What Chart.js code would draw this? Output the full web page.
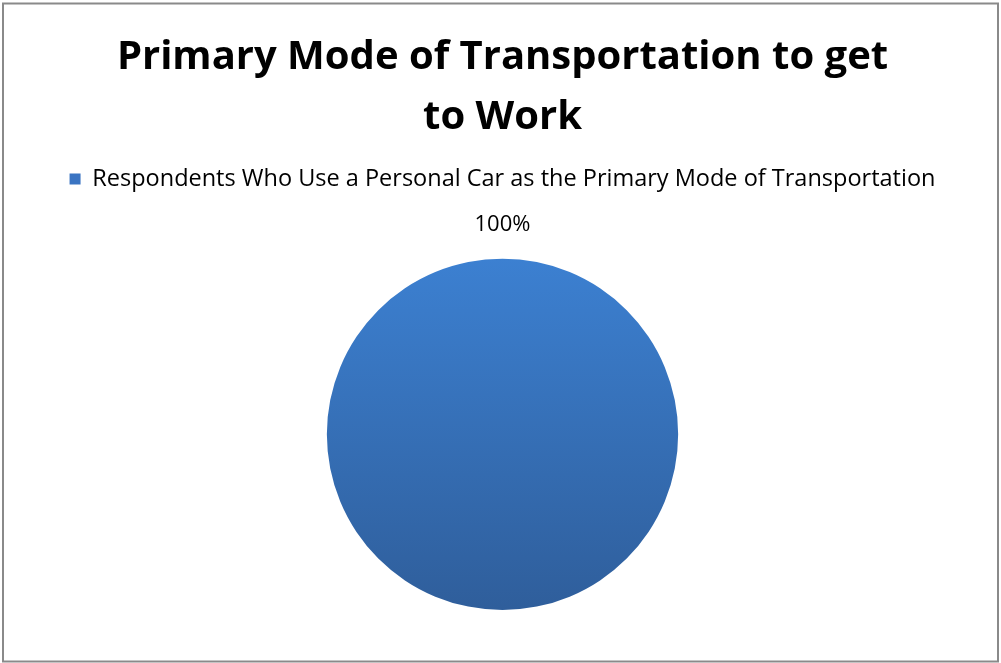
<!DOCTYPE html>
<html>
<head>
<meta charset="utf-8">
<script src="https://cdn.jsdelivr.net/npm/chart.js@4/dist/chart.umd.min.js"></script>
<style>
  html, body { margin: 0; padding: 0; background: #fff; }
  #wrap { width: 1001px; height: 663px; }
</style>
</head>
<body>
<div id="wrap"><canvas id="graph"></canvas></div>
<script>
var categories = ['Respondents Who Use a Personal Car as the Primary Mode of Transportation'];
var values = [100];
var titleLines = ['Primary Mode of Transportation to get', 'to Work'];

// white background + grey frame around the whole chart
const frame = {
  id: 'frame',
  beforeDraw(chart) {
    const ctx = chart.ctx;
    ctx.save();
    ctx.fillStyle = '#fff';
    ctx.fillRect(0, 0, chart.width, chart.height);
    ctx.strokeStyle = '#8a8a8a';
    ctx.lineWidth = 2;
    ctx.strokeRect(3, 3.5, 995, 658);
    ctx.restore();
  }
};

// leave room under the legend for the percent label
const legendGap = {
  id: 'legendGap',
  beforeLayout(chart) {
    const lg = chart.legend;
    if (lg && !lg._gapPatched) {
      lg._gapPatched = true;
      const fit = lg.fit;
      lg.fit = function () {
        fit.call(this);
        this.height += 58;
      };
    }
  }
};

// percent label sitting just above the pie
const valueLabels = {
  id: 'valueLabels',
  afterDatasetsDraw(chart) {
    const meta = chart.getDatasetMeta(0);
    const total = values.reduce((a, b) => a + b, 0);
    const ctx = chart.ctx;
    ctx.save();
    ctx.font = '22px "Open Sans"';
    ctx.fillStyle = '#000';
    ctx.textAlign = 'center';
    ctx.textBaseline = 'middle';
    meta.data.forEach(function (arc, i) {
      const pct = Math.round(values[i] / total * 100) + '%';
      ctx.fillText(pct, arc.x, arc.y - arc.outerRadius - 34);
    });
    ctx.restore();
  }
};

function pieFill(context) {
  const area = context.chart.chartArea;
  if (!area) return '#3a72bd';
  const g = context.chart.ctx.createLinearGradient(0, area.top, 0, area.bottom);
  g.addColorStop(0, '#3c80d1');
  g.addColorStop(1, '#2f5e9b');
  return g;
}

const config = {
  type: 'pie',
  data: {
    labels: categories,
    datasets: [{
      data: values,
      backgroundColor: pieFill,
      borderWidth: 0
    }]
  },
  options: {
    responsive: true,
    maintainAspectRatio: false,
    animation: false,
    layout: {
      padding: { left: 4, right: 0, top: 0, bottom: 53 }
    },
    plugins: {
      title: {
        display: true,
        text: titleLines,
        color: '#000',
        font: { family: 'Open Sans', size: 40, weight: 'bold', lineHeight: 1.49 },
        padding: { top: 28, bottom: 10 }
      },
      legend: {
        display: true,
        position: 'top',
        labels: {
          color: '#000',
          font: { family: 'Open Sans', size: 23.5 },
          boxWidth: 11,
          boxHeight: 11,
          padding: 10,
          generateLabels: function (chart) {
            return categories.map(function (c, i) {
              return { text: c, fillStyle: '#3a74c2', strokeStyle: '#3a74c2', lineWidth: 0, index: i };
            });
          }
        }
      },
      tooltip: { enabled: false }
    }
  },
  plugins: [frame, legendGap, valueLabels]
};

var myChart = new Chart(document.getElementById('graph'), config);
</script>
</body>
</html>
